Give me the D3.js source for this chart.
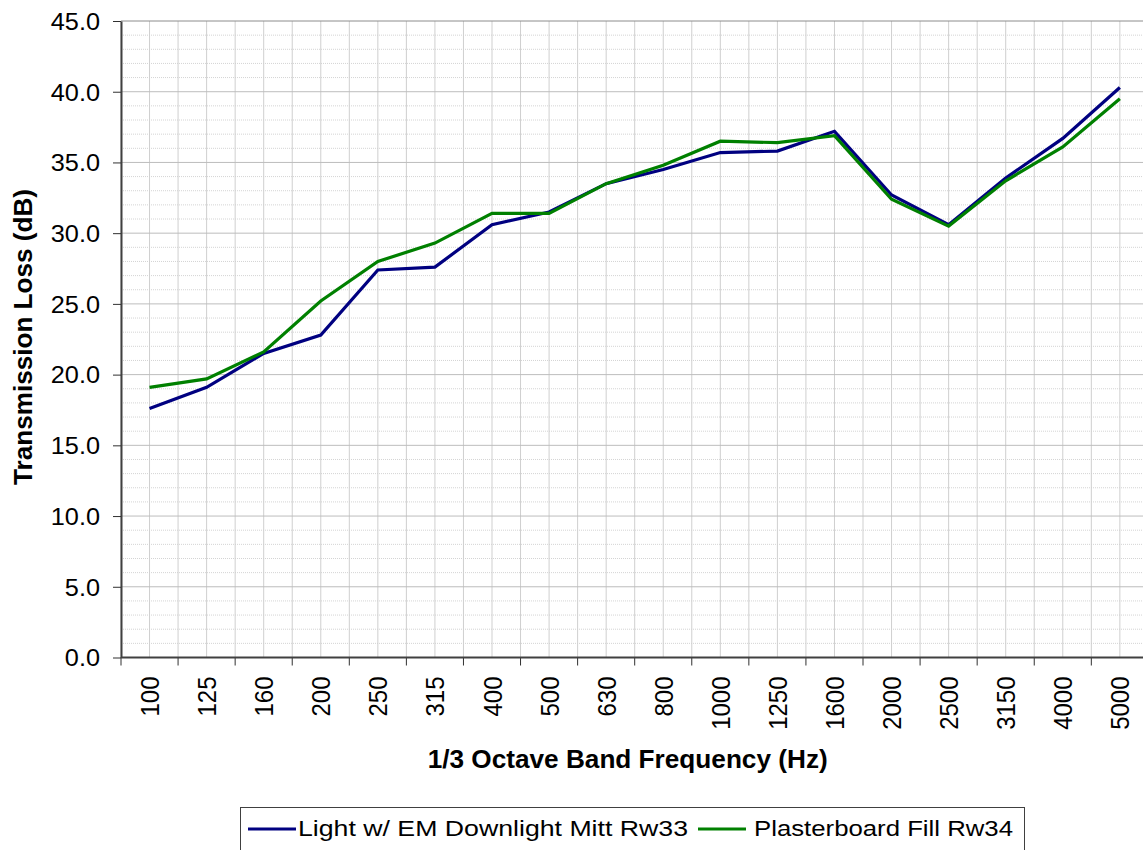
<!DOCTYPE html>
<html>
<head>
<meta charset="utf-8">
<script src="https://cdnjs.cloudflare.com/ajax/libs/d3/7.8.5/d3.min.js"></script>
<style>
	body { margin: 0; background: #fff; }
	svg { display: block; font-family: "Liberation Sans", Arial, sans-serif; }
</style>
</head>
<body>
<svg id="chart" width="1143" height="850"></svg>
<script>
	// 1/3 octave bands and measured transmission loss (dB)
	var bands = ["100","125","160","200","250","315","400","500","630","800","1000","1250","1600","2000","2500","3150","4000","5000"];
	var lightEM = [17.6,19.1,21.5,22.8,27.4,27.6,30.6,31.5,33.5,34.5,35.7,35.8,37.2,32.7,30.6,33.9,36.7,40.3];
	var plasterFill = [19.1,19.7,21.6,25.2,28.0,29.3,31.4,31.4,33.5,34.8,36.5,36.4,36.9,32.4,30.5,33.7,36.1,39.5];
	var yTicks = [0,5,10,15,20,25,30,35,40,45];
	var seriesNames = ["Light w/ EM Downlight Mitt Rw33","Plasterboard Fill Rw34"];
	var seriesColors = ["#000080","#008000"];

	var svg = d3.select("#chart");
	var plotL = 121, plotT = 21, plotR = 1148.4, plotB = 657.5;

	var x = d3.scaleBand().domain(bands).range([plotL,plotR]).padding(0);
	var y = d3.scaleLinear().domain([0,45]).range([plotB,plotT]);
	var bw = x.bandwidth();

	// grid
	var grid = svg.append("g");
	var minor = d3.range(0,46,1).filter(function(d){return d%5!=0});
	grid.selectAll(".minor").data(minor).enter().append("line")
		.attr("x1",plotL).attr("x2",plotR)
		.attr("y1",function(d){return y(d)}).attr("y2",function(d){return y(d)})
		.attr("stroke","#d4d4d4").attr("stroke-dasharray","1,1");
	var vlines = [];
	bands.forEach(function(b){ vlines.push(x(b)); vlines.push(x(b)+bw/2); });
	vlines.push(plotR);
	grid.selectAll(".v").data(vlines).enter().append("line")
		.attr("x1",function(d){return d}).attr("x2",function(d){return d})
		.attr("y1",plotT).attr("y2",plotB)
		.attr("stroke","#cfcfcf");
	grid.selectAll(".major").data(yTicks).enter().append("line")
		.attr("x1",plotL).attr("x2",plotR)
		.attr("y1",function(d){return y(d)}).attr("y2",function(d){return y(d)})
		.attr("stroke",function(d){return d==45?"#8c8c8c":"#bdbdbd"});

	// y axis
	var yAxis = svg.append("g").attr("transform","translate("+plotL+",0)")
		.call(d3.axisLeft(y).tickValues(yTicks).tickFormat(d3.format(".1f")).tickSize(8).tickSizeOuter(0));
	yAxis.select(".domain").attr("stroke","#404040").attr("stroke-width",2);
	yAxis.selectAll(".tick line").attr("stroke","#303030");
	yAxis.selectAll(".tick text")
		.attr("font-size",23).attr("fill","#000").attr("font-family","Liberation Sans, Arial, sans-serif")
		.attr("x",-21/1.1).attr("dy","0.36em")
		.attr("transform","scale(1.1,1)");

	// x axis: labels at band centres, ticks at band edges
	var xAxis = svg.append("g").attr("transform","translate(0,"+plotB+")")
		.call(d3.axisBottom(x).tickSize(0).tickSizeOuter(0));
	xAxis.select(".domain").remove();
	xAxis.selectAll(".tick text")
		.attr("font-size",24).attr("fill","#000").attr("font-family","Liberation Sans, Arial, sans-serif")
		.attr("text-anchor","end")
		.attr("x",-19).attr("y",0).attr("dy","0.36em")
		.attr("transform","rotate(-90) scale(1,1.1)");
	var edges = bands.map(function(b){return x(b)});
	svg.append("g").selectAll("line").data(edges).enter().append("line")
		.attr("x1",function(d){return d}).attr("x2",function(d){return d})
		.attr("y1",plotB).attr("y2",plotB+8)
		.attr("stroke","#303030");
	svg.append("line").attr("x1",plotL).attr("x2",plotR).attr("y1",plotB).attr("y2",plotB)
		.attr("stroke","#404040").attr("stroke-width",2);

	// series lines
	var line = d3.line()
		.x(function(d,i){return x(bands[i])+bw/2})
		.y(function(d){return y(d)});
	[lightEM,plasterFill].forEach(function(s,i){
		svg.append("path").datum(s)
			.attr("d",line)
			.attr("fill","none")
			.attr("stroke",seriesColors[i])
			.attr("stroke-width",3.2)
			.attr("stroke-linejoin","miter");
	});

	// axis titles
	svg.append("text")
		.attr("x",(plotL+plotR)/2-7).attr("y",767.5)
		.attr("text-anchor","middle").attr("font-weight","bold").attr("font-size",25)
		.attr("textLength",400).attr("lengthAdjust","spacingAndGlyphs")
		.text("1/3 Octave Band Frequency (Hz)");
	svg.append("text")
		.attr("transform","translate(32,337) rotate(-90)")
		.attr("text-anchor","middle").attr("font-weight","bold").attr("font-size",25)
		.attr("textLength",296).attr("lengthAdjust","spacingAndGlyphs")
		.text("Transmission Loss (dB)");

	// legend
	var legend = svg.append("g");
	legend.append("rect").attr("x",240.5).attr("y",807.5).attr("width",784).attr("height",60)
		.attr("fill","#fff").attr("stroke","#404040");
	var items = [{x:248,len:390},{x:698,len:259}];
	items.forEach(function(it,i){
		legend.append("line").attr("x1",it.x).attr("x2",it.x+48).attr("y1",829).attr("y2",829)
			.attr("stroke",seriesColors[i]).attr("stroke-width",3.2);
		legend.append("text").attr("x",it.x+50+(i==1?6:0)).attr("y",836)
			.attr("font-size",22).attr("textLength",it.len).attr("lengthAdjust","spacingAndGlyphs")
			.text(seriesNames[i]);
	});
</script>
</body>
</html>
